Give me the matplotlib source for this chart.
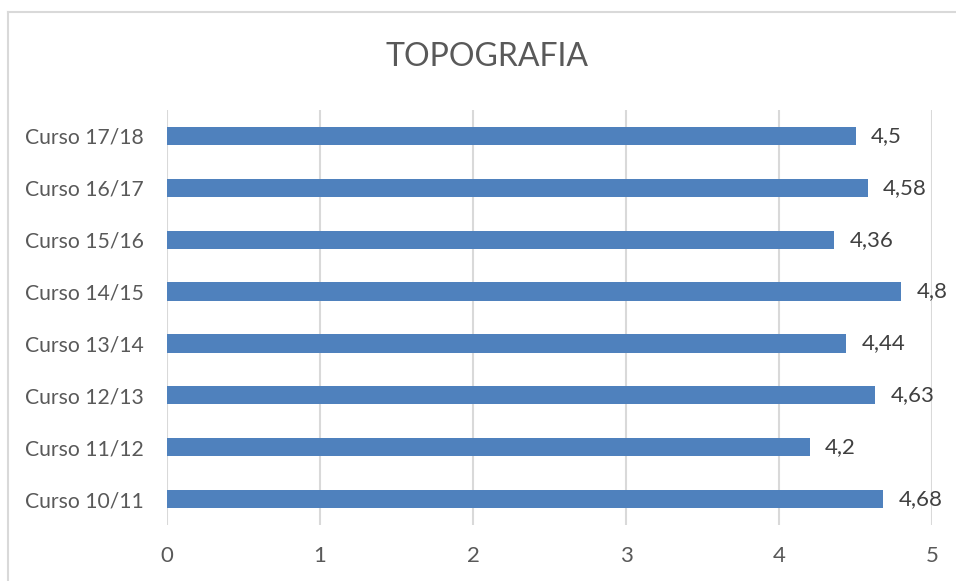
import matplotlib
matplotlib.use("Agg")
import matplotlib.pyplot as plt
from matplotlib.lines import Line2D

categories = ["Curso 10/11", "Curso 11/12", "Curso 12/13", "Curso 13/14",
              "Curso 14/15", "Curso 15/16", "Curso 16/17", "Curso 17/18"]
values = [4.68, 4.2, 4.63, 4.44, 4.8, 4.36, 4.58, 4.5]
value_labels = ["4,68", "4,2", "4,63", "4,44", "4,8", "4,36", "4,58", "4,5"]
xticks = [0, 1, 2, 3, 4, 5]
title = "TOPOGRAFIA"

plt.rcParams['font.family'] = ['Lato', 'DejaVu Sans']

W, H = 956, 581
fig = plt.figure(figsize=(W / 100, H / 100), dpi=100)
ax = fig.add_axes([167 / W, 1 - 525 / H, (932 - 167) / W, (525 - 110) / H])

ypos = list(range(len(categories)))
ax.barh(ypos, values, height=0.35, color="#4f81bd", zorder=3)
for y, v, lab in zip(ypos, values, value_labels):
    ax.text(v + 0.1, y, lab, va="center", ha="left", fontsize=16, color="#404040")

ax.set_xlim(0, 5)
ax.set_ylim(-0.5, len(categories) - 0.5)
ax.set_xticks(xticks)
ax.set_xticklabels([str(t) for t in xticks], fontsize=16, color="#595959")
ax.set_yticks(ypos)
ax.set_yticklabels(categories, fontsize=15.2, color="#595959")
ax.tick_params(axis="both", length=0)
ax.tick_params(axis="x", pad=15)
ax.tick_params(axis="y", pad=17)
ax.grid(axis="x", color="#d9d9d9", linewidth=1.5, zorder=0)
for s in ax.spines.values():
    s.set_visible(False)

fig.text(487 / W, 1 - 57 / H, title, ha="center", va="center", fontsize=23, color="#595959")

# chart border
fig.add_artist(Line2D([7.5 / W, 7.5 / W], [0, 1 - 11.5 / H], transform=fig.transFigure, color="#d9d9d9", linewidth=1.5))
fig.add_artist(Line2D([7.5 / W, 1], [1 - 11.5 / H, 1 - 11.5 / H], transform=fig.transFigure, color="#d9d9d9", linewidth=1.5))

fig.savefig("out.png", dpi=100)
